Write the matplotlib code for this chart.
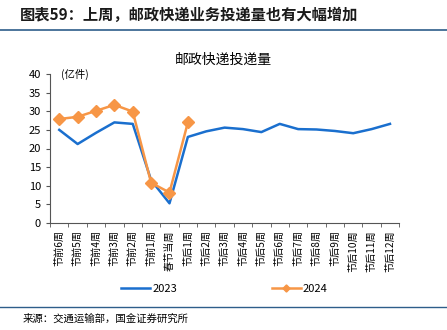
import numpy as np
import matplotlib.pyplot as plt
from matplotlib.lines import Line2D

plt.rcParams['font.family'] = ['Noto Sans CJK SC', 'DejaVu Sans']

# categories: weeks around Spring Festival
weeks = ['节前6周', '节前5周', '节前4周', '节前3周', '节前2周', '节前1周', '春节当周',
         '节后1周', '节后2周', '节后3周', '节后4周', '节后5周', '节后6周', '节后7周',
         '节后8周', '节后9周', '节后10周', '节后11周', '节后12周']
vol_2023 = [25.0, 21.2, 24.2, 27.0, 26.6, 11.5, 5.3, 23.1, 24.6, 25.6, 25.2, 24.4,
            26.6, 25.2, 25.1, 24.7, 24.1, 25.2, 26.6]
vol_2024 = [27.9, 28.5, 30.1, 31.7, 29.9, 10.8, 8.2, 27.0]

blue = '#1a6fce'
orange = '#f79646'

fig = plt.figure(figsize=(4.47, 3.30), dpi=100)

# header
fig.text(0.045, 0.955, '图表59：上周，邮政快递业务投递量也有大幅增加', fontsize=11,
         fontweight='bold', style='italic', color='#1a1a1a', va='center')
fig.add_artist(Line2D([0.0, 1.0], [0.908, 0.908], color='#2e5e8a', lw=1.2))

ax = fig.add_axes([0.112, 0.324, 0.781, 0.452])
x = np.arange(len(weeks))
ax.plot(x, vol_2023, color=blue, lw=1.8, label='2023')
ax.plot(np.arange(len(vol_2024)), vol_2024, color=orange, lw=1.8, marker='D',
        markersize=6, label='2024')

ax.set_xlim(-0.5, len(weeks) - 0.5)
ax.set_ylim(0, 40)
ax.set_yticks(range(0, 41, 5))
ax.set_xticks(x)
ax.set_xticklabels(weeks, rotation=90, fontsize=7.3)
ax.set_xticks(np.arange(-0.5, len(weeks), 1), minor=True)
ax.tick_params(axis='x', which='major', length=0, pad=5)
ax.tick_params(axis='x', which='minor', length=3, direction='out', color='#555555')
ax.tick_params(axis='y', labelsize=8, length=3, color='#555555')
for s in ['top', 'right']:
    ax.spines[s].set_visible(False)
for s in ['left', 'bottom']:
    ax.spines[s].set_color('#555555')

ax.text(0.03, 1.0, '(亿件)', transform=ax.transAxes, fontsize=7.5, va='center')
fig.text(0.5, 0.82, '邮政快递投递量', fontsize=10, ha='center', va='center')

ax.legend(loc='upper center', bbox_to_anchor=(0.5, -0.34), ncol=2, frameon=False,
          fontsize=8, columnspacing=8.5, handlelength=2.6, handletextpad=0.2,
          markerscale=0.6)

fig.add_artist(Line2D([0.0, 1.0], [0.07, 0.07], color='#2e5e8a', lw=1.0))
fig.text(0.05, 0.035, '来源：交通运输部，国金证券研究所', fontsize=7.5, va='center')

fig.savefig('out.png', dpi=100)
